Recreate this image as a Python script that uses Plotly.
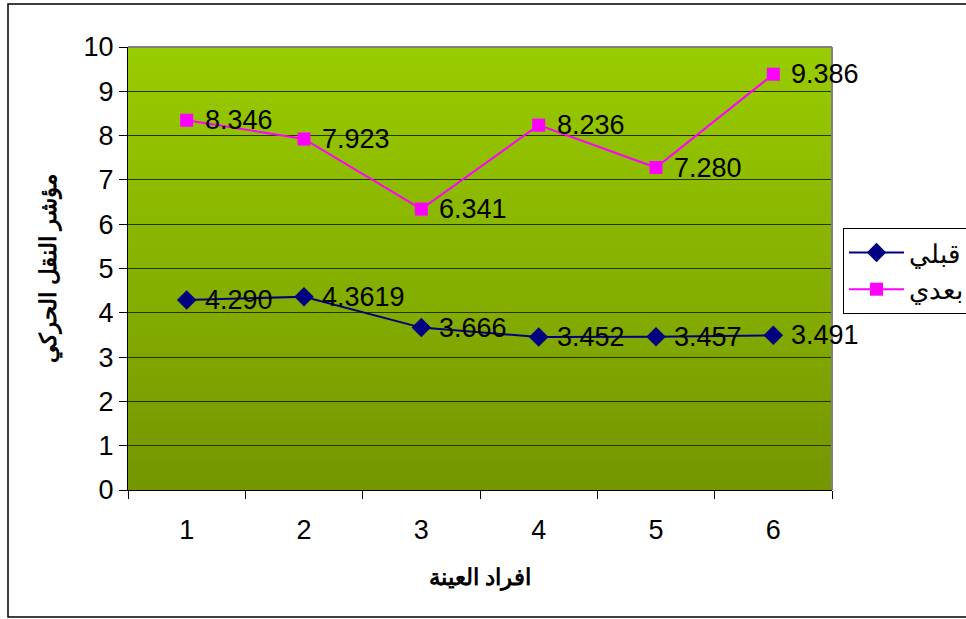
import plotly.graph_objects as go

# Sample members (x axis) and the motor transfer index before / after
members = [1, 2, 3, 4, 5, 6]
before_vals = [4.290, 4.3619, 3.666, 3.452, 3.457, 3.491]
after_vals = [8.346, 7.923, 6.341, 8.236, 7.280, 9.386]
before_labels = ["4.290", "4.3619", "3.666", "3.452", "3.457", "3.491"]
after_labels = ["8.346", "7.923", "6.341", "8.236", "7.280", "9.386"]
y_ticks = list(range(0, 11))

FONT = "Liberation Sans, Arial, sans-serif"
W, H = 966, 619
L, R, T, B = 128, 966 - 832, 47, 619 - 490
plot_w, plot_h = W - L - R, H - T - B

fig = go.Figure()

fig.add_trace(go.Scatter(
    x=members, y=before_vals, name="قبلي", mode="lines+markers",
    line=dict(color="#000080", width=2),
    marker=dict(symbol="diamond", size=15, color="#000080"),
    cliponaxis=False,
))
fig.add_trace(go.Scatter(
    x=members, y=after_vals, name="بعدي", mode="lines+markers",
    line=dict(color="#FF00FF", width=2),
    marker=dict(symbol="square", size=13, color="#FF00FF"),
    cliponaxis=False,
))

# value labels to the right of each point
annotations = []
for xs, ys, labels in ((members, before_vals, before_labels),
                       (members, after_vals, after_labels)):
    for x, y, t in zip(xs, ys, labels):
        annotations.append(dict(x=x, y=y, text=t, showarrow=False,
                                xanchor="left", yanchor="middle", xshift=16,
                                font=dict(family=FONT, size=27, color="black")))

# vertical gradient behind the plot area
shapes = []
n = 120
top_c, bot_c = (153, 204, 0), (116, 150, 0)
for i in range(n):
    f = i / (n - 1)
    c = tuple(round(bot_c[k] + (top_c[k] - bot_c[k]) * f) for k in range(3))
    shapes.append(dict(type="rect", xref="x domain", yref="y domain",
                       x0=0, x1=1, y0=i / n, y1=(i + 1) / n + 0.002,
                       fillcolor="rgb(%d,%d,%d)" % c, line=dict(width=0),
                       layer="below"))
# gray top and right edges of the plot area
shapes.append(dict(type="line", xref="x domain", yref="y domain",
                   x0=0, x1=1, y0=1, y1=1, line=dict(color="#808080", width=2)))
shapes.append(dict(type="line", xref="x domain", yref="y domain",
                   x0=1, x1=1, y0=0, y1=1, line=dict(color="#808080", width=2)))
# outer chart frame
shapes.append(dict(type="rect", xref="paper", yref="paper",
                   x0=(8 - L) / plot_w, x1=(975 - L) / plot_w,
                   y0=(490 - 617) / plot_h, y1=(490 - 4) / plot_h,
                   line=dict(color="black", width=1.5), fillcolor="rgba(0,0,0,0)",
                   layer="below"))

fig.update_layout(
    width=W, height=H,
    margin=dict(l=L, r=R, t=T, b=B, pad=0, autoexpand=False),
    paper_bgcolor="white", plot_bgcolor="rgba(0,0,0,0)",
    font=dict(family=FONT, size=27, color="black"),
    shapes=shapes,
    annotations=annotations,
    showlegend=True,
    legend=dict(
        x=(843 - L) / plot_w, xanchor="left",
        y=(490 - 228) / plot_h, yanchor="top",
        bgcolor="white", bordercolor="black", borderwidth=1,
        font=dict(family=FONT, size=26, color="black"),
        itemwidth=55, tracegroupgap=0,
    ),
    xaxis=dict(
        range=[0.5, 6.5], tickmode="array", tickvals=members,
        ticktext=[str(m) for m in members],
        ticks="", ticklabelstandoff=16, showgrid=False, zeroline=False,
        showline=True, linecolor="black", linewidth=1,
        minor=dict(tickmode="array", tickvals=[0.5, 1.5, 2.5, 3.5, 4.5, 5.5, 6.5],
                   ticks="outside", ticklen=8, tickcolor="black", showgrid=False),
        tickfont=dict(family=FONT, size=27),
        title=dict(text="<b>افراد العينة</b>", font=dict(family=FONT, size=23),
                   standoff=24),
    ),
    yaxis=dict(
        range=[0, 10], tickmode="array", tickvals=y_ticks,
        ticks="outside", ticklen=8, tickcolor="black",
        showgrid=True, gridcolor="#2a3300", gridwidth=1, zeroline=False,
        showline=True, linecolor="black", linewidth=1,
        tickfont=dict(family=FONT, size=27),
        title=dict(text="<b>مؤشر النقل الحركي</b>", font=dict(family=FONT, size=23),
                   standoff=20),
    ),
)

fig.write_html("out.html")
